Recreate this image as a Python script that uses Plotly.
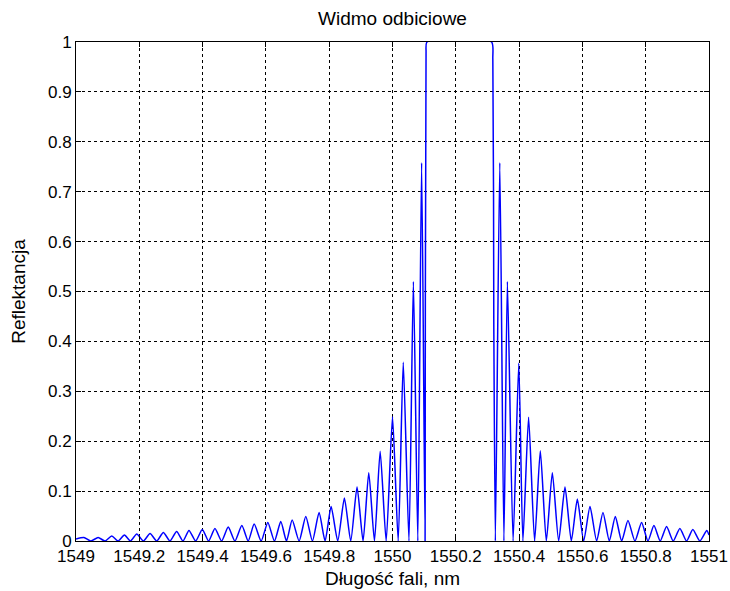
"""Widmo odbiciowe siatki Bragga (odtworzenie wykresu)
"""

import plotly.graph_objects as go

# wierzcholki widma: maksima i zera listkow bocznych
wavelength_nm = [
    1549.000, 1549.025, 1549.047, 1549.070, 1549.092, 1549.113, 1549.133,
    1549.153, 1549.172, 1549.192, 1549.213, 1549.234, 1549.255, 1549.276,
    1549.297, 1549.318, 1549.338, 1549.357, 1549.378, 1549.399, 1549.419,
    1549.439, 1549.460, 1549.481, 1549.502, 1549.524, 1549.544, 1549.563,
    1549.585, 1549.606, 1549.627, 1549.647, 1549.665, 1549.683, 1549.705,
    1549.726, 1549.747, 1549.768, 1549.787, 1549.806, 1549.827, 1549.848,
    1549.868, 1549.888, 1549.907, 1549.925, 1549.943, 1549.961, 1549.980,
    1550.000, 1550.018, 1550.034, 1550.052, 1550.066, 1550.080, 1550.092,
    1550.103,
    # listek glowny
    1550.106, 1550.109, 1550.313, 1550.317, 1550.320, 1550.325,
    # prawa strona
    1550.339, 1550.352, 1550.363, 1550.381, 1550.399, 1550.412, 1550.430,
    1550.449, 1550.467, 1550.486, 1550.505, 1550.525, 1550.545, 1550.565,
    1550.584, 1550.604, 1550.624, 1550.645, 1550.665, 1550.685, 1550.704,
    1550.724, 1550.744, 1550.766, 1550.787, 1550.807, 1550.826, 1550.846,
    1550.866, 1550.887, 1550.908, 1550.929, 1550.949, 1550.971, 1550.993,
    1551.000,
]
reflectance = [
    0.004, 0.007, 0.0, 0.007, 0.0, 0.010, 0.0,
    0.012, 0.0, 0.014, 0.0, 0.015, 0.0, 0.017,
    0.0, 0.019, 0.0, 0.021, 0.0, 0.023, 0.0,
    0.025, 0.0, 0.028, 0.0, 0.031, 0.0, 0.034,
    0.0, 0.037, 0.0, 0.039, 0.0, 0.042, 0.0,
    0.049, 0.0, 0.057, 0.0, 0.069, 0.0, 0.086,
    0.0, 0.108, 0.0, 0.137, 0.0, 0.180, 0.0,
    0.249, 0.0, 0.358, 0.0, 0.520, 0.0, 0.758,
    0.0,
    0.978, 1.0, 1.0, 0.966, 0.443, 0.0,
    0.758, 0.0, 0.520, 0.0, 0.356, 0.0, 0.248,
    0.0, 0.181, 0.0, 0.137, 0.0, 0.108, 0.0,
    0.084, 0.0, 0.069, 0.0, 0.057, 0.0, 0.049,
    0.0, 0.041, 0.0, 0.037, 0.0, 0.031, 0.0,
    0.029, 0.0, 0.025, 0.0, 0.023, 0.0, 0.021,
    0.012,
]

x_ticks = [1549, 1549.2, 1549.4, 1549.6, 1549.8, 1550, 1550.2, 1550.4, 1550.6, 1550.8, 1551]
x_labels = ["1549", "1549.2", "1549.4", "1549.6", "1549.8", "1550",
            "1550.2", "1550.4", "1550.6", "1550.8", "1551"]
y_ticks = [0, 0.1, 0.2, 0.3, 0.4, 0.5, 0.6, 0.7, 0.8, 0.9, 1]
y_labels = ["0", "0.1", "0.2", "0.3", "0.4", "0.5", "0.6", "0.7", "0.8", "0.9", "1"]

FONT = "Liberation Sans, Arial, sans-serif"
W, H = 730, 591

fig = go.Figure(
    data=[
        go.Scatter(
            x=wavelength_nm,
            y=reflectance,
            mode="lines",
            line=dict(color="#0000ff", width=1.5, shape="spline", smoothing=0.6),
            showlegend=False,
        )
    ]
)

axis_common = dict(
    showline=True,
    linecolor="black",
    linewidth=1,
    mirror="ticks",
    ticks="inside",
    ticklen=5,
    tickcolor="black",
    showgrid=True,
    gridcolor="black",
    gridwidth=1,
    griddash="3px,3px",
    zeroline=False,
    automargin=False,
    tickfont=dict(family=FONT, size=17, color="black"),
)

fig.update_xaxes(
    range=[1549, 1551],
    tickvals=x_ticks,
    ticktext=x_labels,
    title=dict(text="Długość fali, nm", font=dict(family=FONT, size=19, color="black"), standoff=6),
    **axis_common,
)
fig.update_yaxes(
    range=[0, 1],
    tickvals=y_ticks,
    ticktext=y_labels,
    title=dict(text="Reflektancja", font=dict(family=FONT, size=19, color="black"), standoff=17),
    **axis_common,
)

fig.update_layout(
    width=W,
    height=H,
    margin=dict(l=76, r=21, t=42, b=50),
    paper_bgcolor="white",
    plot_bgcolor="white",
    title=dict(
        text="Widmo odbiciowe",
        x=0.5, xref="paper", xanchor="center",
        y=1 - 18 / H, yref="container", yanchor="middle",
        font=dict(family=FONT, size=19, color="black"),
    ),
)

# bez domyslnego marginesu strony, zeby figura zajela cale okno
fig.write_html(
    "out.html",
    config={"displayModeBar": False},
    post_script="document.body.style.margin='0';",
)
